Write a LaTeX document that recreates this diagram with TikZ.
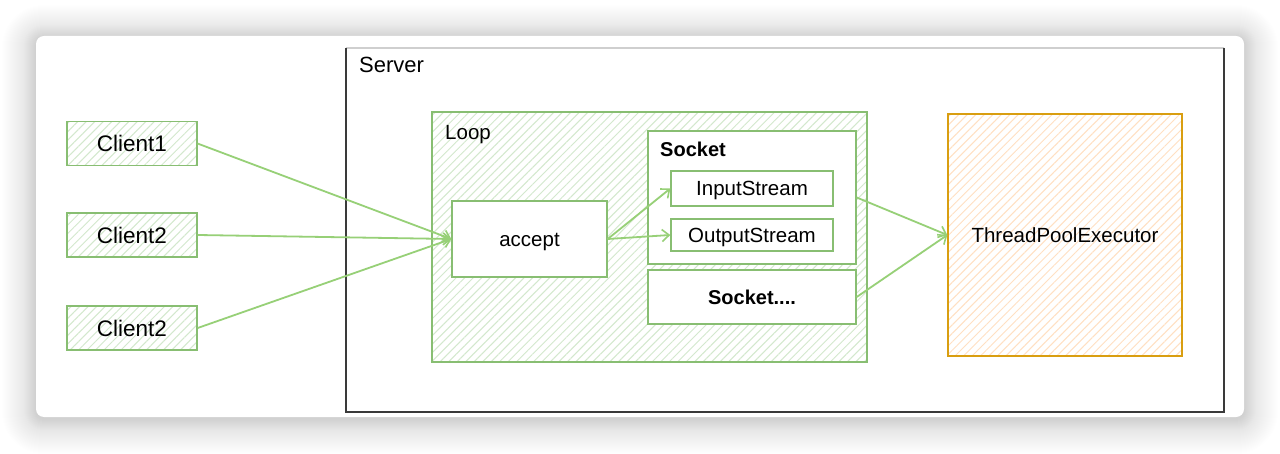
\documentclass[tikz,border=0pt]{standalone}
\usepackage{fontspec}
\setmainfont{Liberation Sans}
\usetikzlibrary{arrows.meta,patterns.meta}
\definecolor{gborder}{HTML}{88BE72}
\definecolor{garrow}{HTML}{97D077}
\definecolor{ghatch}{HTML}{D3E8CD}
\definecolor{oborder}{HTML}{D99E10}
\definecolor{ohatch}{HTML}{FFE0C2}
\definecolor{srv}{HTML}{3A3A3A}
\definecolor{srvlight}{HTML}{CFCFCF}
\tikzset{
  x=1pt,y=-1pt,
  txt/.style={font=\fontsize{20.5}{24}\selectfont, text height=14.8pt, text depth=0pt, inner sep=0pt},
  gbox/.style={draw=gborder, line width=1.4pt, fill=white, txt},
  hbox/.style={gbox, fill=none, pattern={Lines[angle=45,distance=6pt,line width=1pt]}, pattern color=ghatch},
  client/.style={hbox, font=\fontsize{22.5}{26}\selectfont, text height=16.2pt, minimum width=130pt, minimum height=44pt},
  conn/.style={draw=garrow, line width=1.8pt, -{Straight Barb[length=7pt,width=12pt,line width=1.6pt]}},
  lbl/.style={anchor=base west, inner sep=0pt},
}
\begin{document}
\begin{tikzpicture}
\useasboundingbox (0,0) rectangle (1280,454);
\fill[white] (0,0) rectangle (1280,454);
% soft shadow of the card
\foreach \i in {1,...,34}{
  \fill[black, opacity=0.005, rounded corners=8pt+\i pt] (36-\i,36-\i+3) rectangle (1244+\i,417+\i+3);
}
\foreach \i in {1,...,12}{
  \fill[black, opacity=0.005, rounded corners=8pt+\i pt] (36-\i,36-\i+1) rectangle (1244+\i,417+\i+1);
}
\node[name=card, fill=white, rounded corners=8pt, minimum width=1208pt, minimum height=381pt, inner sep=0pt] at (640,226.5) {};
% Server
\node[name=server, minimum width=878pt, minimum height=364pt, inner sep=0pt] at (785,230) {};
\draw[srvlight, line width=1.5pt] (server.north west) -- (server.north east);
\draw[srv, line width=1.5pt] (server.north east) -- (server.south east) -- (server.south west) -- (server.north west);
\node[name=serverlbl, lbl, font=\fontsize{22}{26}\selectfont] at (359,73) {Server};
% Clients
\node[name=c1, client] at (132,143.5) {Client1};
\node[name=c2, client] at (132,235) {Client2};
\node[name=c3, client] at (132,328) {Client2};
% Loop
\node[name=loop, hbox, minimum width=435pt, minimum height=250pt] at (649.5,237) {};
\node[name=looplbl, lbl, txt] at (445,139.5) {Loop};
\node[name=accept, gbox, minimum width=155pt, minimum height=76pt] at (529.5,239) {accept};
\node[name=sock, gbox, minimum width=208pt, minimum height=133pt] at (752,197.5) {};
\node[name=socklbl, lbl, font=\fontsize{20}{24}\selectfont\bfseries] at (660,157) {Socket};
\node[name=ins, gbox, minimum width=162pt, minimum height=35pt] at (752,188.5) {InputStream};
\node[name=outs, gbox, minimum width=162pt, minimum height=32pt] at (752,235) {OutputStream};
\node[name=sock2, gbox, font=\fontsize{20}{24}\selectfont\bfseries, minimum width=208pt, minimum height=54pt] at (752,297) {Socket....};
% Thread pool
\node[name=tpe, draw=oborder, line width=1.4pt, txt, pattern={Lines[angle=45,distance=6pt,line width=1pt]}, pattern color=ohatch, minimum width=234pt, minimum height=242pt] at (1065,235) {ThreadPoolExecutor};
% connectors
\draw[conn] (c1.east) -- (accept.west);
\draw[conn] (c2.east) -- (accept.west);
\draw[conn] (c3.east) -- (accept.west);
\draw[conn] (accept.east) -- (ins.west);
\draw[conn] (accept.east) -- (outs.west);
\draw[conn] (sock.east) -- (tpe.west);
\draw[conn] (sock2.east) -- (tpe.west);
\end{tikzpicture}
\end{document}
